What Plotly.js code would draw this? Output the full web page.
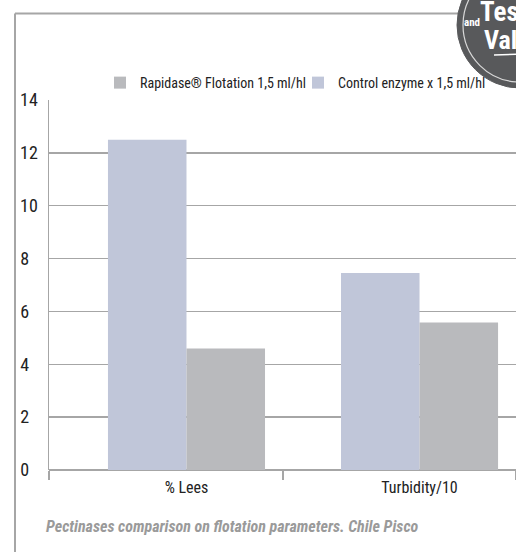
<!DOCTYPE html>
<html>
<head>
<meta charset="utf-8">
<script src="https://cdn.plot.ly/plotly-3.0.1.min.js"></script>
<style>html,body{margin:0;padding:0;background:#fff;overflow:hidden;}#chart{width:516px;height:552px;}</style>
</head>
<body>
<div id="chart"></div>
<script>
// ---- data ----
const categories = ["% Lees", "Turbidity/10"];
const controlValues = [12.5, 7.45];
const rapidaseValues = [4.6, 5.58];
const seriesNames = ["Rapidase® Flotation 1,5 ml/hl", "Control enzyme x 1,5 ml/hl"];
const yTickVals = [0, 2, 4, 6, 8, 10, 12, 14];
const yTickText = ["0\u2007", "2\u2007", "4\u2007", "6\u2007", "8\u2007", "10", "12", "14"];
const caption = "Pectinases comparison on flotation parameters. Chile Pisco";

// ---- layout geometry (pixels) ----
const W = 516, H = 552;
const ML = 49, MR = 0, MT = 100, MB = 81.5;
const PW = W - ML - MR, PH = H - MT - MB;
const px = x => (x - ML) / PW;          // pixel -> paper x
const py = y => (H - MB - y) / PH;      // pixel -> paper y

const FONT = "'Roboto Condensed', 'DejaVu Sans Condensed', sans-serif";
const GRID = "#a6a6a6";

const traces = [
  {type: "bar", name: seriesNames[1], x: categories, y: controlValues,
   marker: {color: "#C0C6D9"}, hoverinfo: "none"},
  {type: "bar", name: seriesNames[0], x: categories, y: rapidaseValues,
   marker: {color: "#B9BABD"}, hoverinfo: "none"},
  {type: "scatter", x: [], y: [], xaxis: "x2", showlegend: false, hoverinfo: "none"}
];

const xr = [-0.59, 1.414];
const badgeC = [520, 25], badgeR = 63, ringR = 57;

const layout = {
  width: W, height: H,
  margin: {l: ML, r: MR, t: MT, b: MB, pad: 0},
  paper_bgcolor: "#fff", plot_bgcolor: "rgba(0,0,0,0)",
  font: {family: FONT, color: "#222", size: 16},
  barmode: "group", bargap: 0.326, bargroupgap: 0,
  showlegend: true,
  legend: {orientation: "h", traceorder: "reversed", x: px(100), y: py(83),
           xanchor: "left", yanchor: "middle", bgcolor: "rgba(0,0,0,0)",
           font: {family: FONT, size: 14, color: "#222"},
           entrywidth: 153, entrywidthmode: "pixels"},
  xaxis: {type: "category", range: xr, showgrid: false, zeroline: false,
          showline: false, ticks: "", tickfont: {family: FONT, size: 16, color: "#222"},
          ticklabelstandoff: 6, fixedrange: true},
  xaxis2: {overlaying: "x", anchor: "y", range: xr, showgrid: false, zeroline: false,
           showline: false, tickmode: "array", tickvals: [xr[0], 0.414, xr[1]],
           ticks: "outside", ticklen: 9, tickwidth: 1.5, tickcolor: GRID,
           showticklabels: false, fixedrange: true},
  yaxis: {range: [0, 14], tickmode: "array", tickvals: yTickVals, ticktext: yTickText,
          showgrid: true, gridcolor: GRID, gridwidth: 1.5,
          zeroline: true, zerolinecolor: GRID, zerolinewidth: 1.5,
          showline: true, linecolor: GRID, linewidth: 1.5, ticks: "",
          tickfont: {family: FONT, size: 18, color: "#222"},
          ticklabelstandoff: 6, fixedrange: true},
  shapes: [
    // frame
    {type: "line", xref: "paper", yref: "paper", x0: px(15), x1: px(460), y0: py(13.5), y1: py(13.5),
     line: {color: GRID, width: 2}},
    {type: "line", xref: "paper", yref: "paper", x0: px(15), x1: px(15), y0: py(13.5), y1: py(560),
     line: {color: GRID, width: 2}},
    // badge
    {type: "circle", xref: "paper", yref: "paper",
     x0: px(badgeC[0] - badgeR), x1: px(badgeC[0] + badgeR),
     y0: py(badgeC[1] + badgeR), y1: py(badgeC[1] - badgeR),
     fillcolor: "#58595b", line: {color: "#58595b", width: 1}},
    {type: "circle", xref: "paper", yref: "paper",
     x0: px(badgeC[0] - ringR), x1: px(badgeC[0] + ringR),
     y0: py(badgeC[1] + ringR), y1: py(badgeC[1] - ringR),
     fillcolor: "rgba(0,0,0,0)", line: {color: "#d8d8d8", width: 1.2}},
    {type: "line", xref: "paper", yref: "paper", x0: px(494), x1: px(520), y0: py(55), y1: py(54),
     line: {color: "#ffffff", width: 1.5}}
  ],
  annotations: [
    {xref: "paper", yref: "paper", x: px(44), y: py(527), xanchor: "left", yanchor: "middle",
     text: "<b><i>" + caption + "</i></b>", showarrow: false,
     font: {family: FONT, size: 16, color: "#9a9a9a"}},
    {xref: "paper", yref: "paper", x: px(462), y: py(22), xanchor: "left", yanchor: "middle",
     text: "<b>and</b>", showarrow: false, font: {family: FONT, size: 11, color: "#fff"}},
    {xref: "paper", yref: "paper", x: px(478), y: py(12), xanchor: "left", yanchor: "middle",
     text: "<b>Tested</b>", showarrow: false, font: {family: FONT, size: 27, color: "#fff"}},
    {xref: "paper", yref: "paper", x: px(482), y: py(40), xanchor: "left", yanchor: "middle",
     text: "<b>Validated</b>", showarrow: false, font: {family: FONT, size: 26, color: "#fff"}}
  ]
};

Plotly.newPlot("chart", traces, layout, {displayModeBar: false, staticPlot: true});
</script>
</body>
</html>
